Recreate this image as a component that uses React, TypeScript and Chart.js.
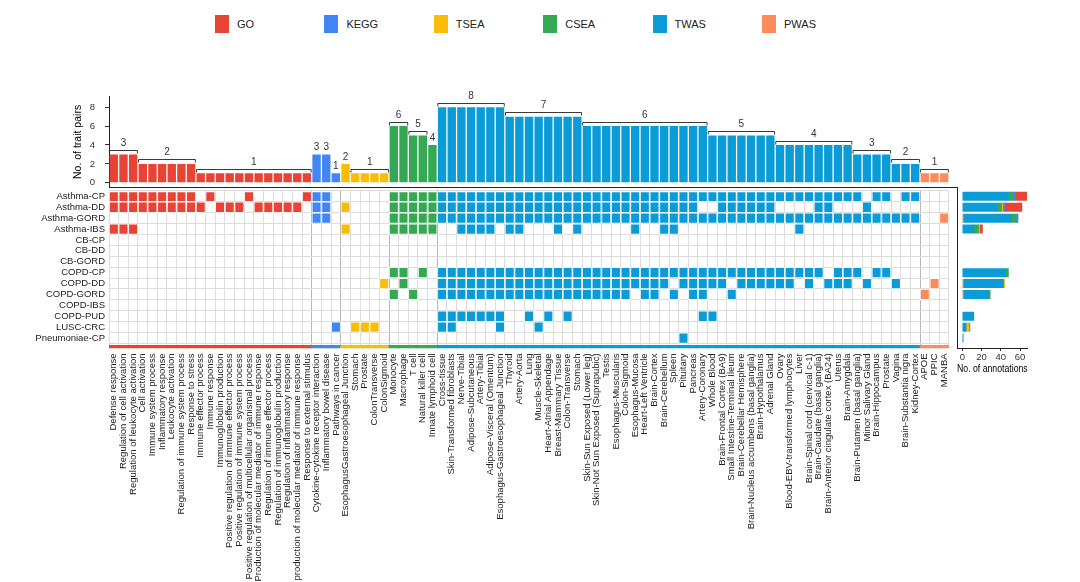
import React, { useEffect, useRef } from "react";
import { Chart, registerables } from "chart.js";

Chart.register(...registerables);

const FONT = '"Liberation Sans", Arial, Helvetica, sans-serif';
Chart.defaults.font.family = FONT;
Chart.defaults.color = "#333";

// ---------- categories ----------
const categories = ["GO", "KEGG", "TSEA", "CSEA", "TWAS", "PWAS"];
const categoryColors = ["#E84335", "#4285F4", "#FBBC05", "#34A853", "#0B9BD7", "#FF8B5C"];

// ---------- annotations (columns) and number of trait pairs ----------
const goTerms = [
  "Defense response",
  "Regulation of cell activation",
  "Regulation of leukocyte activation",
  "Cell activation",
  "Immune system process",
  "Inflammatory response",
  "Leukocyte activation",
  "Regulation of immune system process",
  "Response to stress",
  "Immune effector process",
  "Immune response",
  "Immunoglobulin production",
  "Positive regulation of immune effector process",
  "Positive regulation of immune system process",
  "Positive regulation of multicellular organismal process",
  "Production of molecular mediator of immune response",
  "Regulation of immune effector process",
  "Regulation of immunoglobulin production",
  "Regulation of inflammatory response",
  "production of molecular mediator of immune response",
  "Response to external stimulus",
];
const goPairs = [3, 3, 3, 2, 2, 2, 2, 2, 2, 1, 1, 1, 1, 1, 1, 1, 1, 1, 1, 1, 1];

const keggTerms = ["Cytokine-cytokine receptor interaction", "Inflammatory bowel disease", "Pathways in cancer"];
const keggPairs = [3, 3, 1];

const tseaTerms = ["EsophagusGastroesophageal Junction", "Stomach", "Prostate", "ColonTransverse", "ColonSigmoid"];
const tseaPairs = [2, 1, 1, 1, 1];

const cseaTerms = ["Monocyte", "Macrophage", "T cell", "Natural killer cell", "Innate lymphoid cell"];
const cseaPairs = [6, 6, 5, 5, 4];

const twasTerms = [
  "Cross-tissue", "Skin-Transformed fibroblasts", "Nerve-Tibial", "Adipose-Subcutaneous", "Artery-Tibial",
  "Adipose-Visceral (Omentum)", "Esophagus-Gastroesophageal Junction",
  "Thyroid", "Artery-Aorta", "Lung", "Muscle-Skeletal", "Heart-Atrial Appendage", "Breast-Mammary Tissue",
  "Colon-Transverse", "Stomach",
  "Skin-Sun Exposed (Lower leg)", "Skin-Not Sun Exposed (Suprapubic)", "Testis", "Esophagus-Muscularis",
  "Colon-Sigmoid", "Esophagus-Mucosa", "Heart-Left Ventricle", "Brain-Cortex", "Brain-Cerebellum", "Spleen",
  "Pituitary", "Pancreas", "Artery-Coronary",
  "Whole Blood", "Brain-Frontal Cortex (BA9)", "Small Intestine-Terminal Ileum", "Brain-Cerebellar Hemisphere",
  "Brain-Nucleus accumbens (basal ganglia)", "Brain-Hypothalamus", "Adrenal Gland",
  "Ovary", "Blood-EBV-transformed lymphocytes", "Liver", "Brain-Spinal cord (cervical c-1)",
  "Brain-Caudate (basal ganglia)", "Brain-Anterior cingulate cortex (BA24)", "Uterus", "Brain-Amygdala",
  "Brain-Putamen (basal ganglia)", "Minor Salivary Gland", "Brain-Hippocampus", "Prostate",
  "Vagina", "Brain-Substantia nigra", "Kidney-Cortex",
];
const twasPairs = [
  8, 8, 8, 8, 8, 8, 8,
  7, 7, 7, 7, 7, 7, 7, 7,
  6, 6, 6, 6, 6, 6, 6, 6, 6, 6, 6, 6, 6,
  5, 5, 5, 5, 5, 5, 5,
  4, 4, 4, 4, 4, 4, 4, 4,
  3, 3, 3, 3,
  2, 2, 2,
];

const pwasTerms = ["APOE", "PPIC", "MANBA"];
const pwasPairs = [1, 1, 1];

// label groups over the top bars: [first column, last column]
const bracketGroups = [
  [0, 2], [3, 8], [9, 20], [21, 21], [22, 22], [23, 23], [24, 24], [25, 28],
  [29, 30], [31, 32], [33, 33], [34, 40], [41, 48], [49, 61], [62, 68], [69, 76],
  [77, 80], [81, 83], [84, 86],
];

const pairTicks = [0, 2, 4, 6, 8];

// ---------- trait pairs (rows) ----------
const traitPairs = [
  "Asthma-CP", "Asthma-DD", "Asthma-GORD", "Asthma-IBS", "CB-CP", "CB-DD", "CB-GORD",
  "COPD-CP", "COPD-DD", "COPD-GORD", "COPD-IBS", "COPD-PUD", "LUSC-CRC", "Pneumoniae-CP",
];

// significant cells: GO(21) KEGG(3) TSEA(5) CSEA(5) TWAS(50, in tens) PWAS(3)
const cellPattern = [
  "111111111010001000001 110 00000 11111 1111111111 1111111111 1111111111 1111111111 1111011011 000",
  "111111111101110111110 110 10000 11111 1111111111 1111111111 1111111001 1111100001 1000100000 000",
  "000000000000000000000 110 00000 11111 1111111111 1111111111 1111111111 1111111111 1111111111 001",
  "111000000000000000000 000 10000 11111 0011110110 0010100000 1001100000 0000000100 0000000000 000",
  "000000000000000000000 000 00000 00000 0000000000 0000000000 0000000000 0000000000 0000000000 000",
  "000000000000000000000 000 00000 00000 0000000000 0000000000 0000000000 0000000000 0000000000 000",
  "000000000000000000000 000 00000 00000 0000000000 0000000000 0000000000 0000000000 0000000000 000",
  "000000000000000000000 000 00000 11010 1111111111 1111111111 1111111111 1111111111 0111011000 000",
  "000000000000000000000 000 00001 01000 1111111111 1111111111 1111011111 0111111010 1110100100 010",
  "000000000000000000000 000 00000 10100 1111111111 1111111111 0110101100 1000000000 0000000000 100",
  "000000000000000000000 000 00000 00000 0000000000 0000000000 0000000000 0000000000 0000000000 000",
  "000000000000000000000 000 00000 00000 1111111001 0101000000 0000000110 0000000000 0000000000 000",
  "000000000000000000000 001 01110 00000 1100001000 1000000000 0000000000 0000000000 0000000000 000",
  "000000000000000000000 000 00000 00000 0000000000 0000000000 0000010000 0000000000 0000000000 000",
];

// number of annotations per trait pair, by category
const annoGO = [12, 18, 0, 3, 0, 0, 0, 0, 0, 0, 0, 0, 0, 0];
const annoKEGG = [2, 2, 2, 0, 0, 0, 0, 0, 0, 0, 0, 0, 1, 0];
const annoTSEA = [0, 1, 0, 1, 0, 0, 0, 0, 1, 0, 0, 0, 3, 0];
const annoCSEA = [5, 5, 5, 5, 0, 0, 0, 3, 1, 2, 0, 0, 0, 0];
const annoTWAS = [48, 36, 50, 12, 0, 0, 0, 45, 41, 26, 0, 12, 4, 1];
const annoPWAS = [0, 0, 1, 0, 0, 0, 0, 0, 1, 1, 0, 0, 0, 0];
const annoTicks = [0, 20, 40, 60];

// ---------- derived tables ----------
const termGroups = [goTerms, keggTerms, tseaTerms, cseaTerms, twasTerms, pwasTerms];
const annotations: string[] = termGroups.flat();
const annotationCategory: number[] = termGroups.flatMap((g, ci) => g.map(() => ci));
const pairCounts: number[] = [goPairs, keggPairs, tseaPairs, cseaPairs, twasPairs, pwasPairs].flat();
const colColors = annotationCategory.map((c) => categoryColors[c]);
const categoryStarts: number[] = [];
annotationCategory.forEach((c, j) => {
  if (j > 0 && annotationCategory[j - 1] !== c) categoryStarts.push(j);
});
const rowCells = cellPattern.map((s) => s.replace(/\s+/g, "").split("").map((ch) => ch === "1"));
const annoByCategory = [annoGO, annoKEGG, annoTSEA, annoCSEA, annoTWAS, annoPWAS];
const stackOrder = [5, 4, 3, 2, 1, 0];

const zeroPad = (s: any) => {
  s.paddingTop = 0;
  s.paddingBottom = 0;
  s.paddingLeft = 0;
  s.paddingRight = 0;
};

const bracketPlugin = {
  id: "pairBrackets",
  afterDatasetsDraw(chart: any) {
    const { ctx } = chart;
    const x = chart.scales.x;
    const y = chart.scales.y;
    ctx.save();
    ctx.strokeStyle = "#222";
    ctx.lineWidth = 0.9;
    ctx.fillStyle = "#333";
    ctx.font = `10px ${FONT}`;
    ctx.textAlign = "center";
    ctx.textBaseline = "middle";
    for (const [from, to] of bracketGroups) {
      const v = pairCounts[from];
      const yTop = y.getPixelForValue(v);
      const xl = x.getPixelForValue(from + 0.06);
      const xr = x.getPixelForValue(to + 0.94);
      if (to > from) {
        const yl = Math.round(yTop - 4.4) + 0.5;
        ctx.beginPath();
        ctx.moveTo(xl, yl + 3);
        ctx.lineTo(xl, yl);
        ctx.lineTo(xr, yl);
        ctx.lineTo(xr, yl + 3);
        ctx.stroke();
        ctx.fillText(String(v), (xl + xr) / 2, yl - 7);
      } else {
        ctx.fillText(String(v), (xl + xr) / 2, yTop - 7);
      }
    }
    ctx.restore();
  },
};

export default function App() {
  const topRef = useRef<HTMLCanvasElement>(null);
  const heatRef = useRef<HTMLCanvasElement>(null);
  const sideRef = useRef<HTMLCanvasElement>(null);

  useEffect(() => {
    const charts: Chart[] = [];

    // ---- top bar chart: number of trait pairs per annotation ----
    charts.push(
      new Chart(topRef.current as HTMLCanvasElement, {
        type: "bar",
        data: {
          datasets: [
            {
              data: pairCounts.map((v, j) => ({ x: j + 0.5, y: v })),
              backgroundColor: colColors,
              borderWidth: 0,
              barPercentage: 0.87,
              categoryPercentage: 1,
            } as any,
          ],
        },
        options: {
          responsive: false,
          animation: false,
          events: [],
          layout: { padding: { top: 11.8, right: 11.3, left: 0, bottom: 0 } },
          plugins: { legend: { display: false }, tooltip: { enabled: false } },
          scales: {
            x: {
              type: "linear",
              offset: false,
              min: 0,
              max: 87.8,
              ticks: { display: false },
              grid: { display: false, offset: false },
              border: { display: true, color: "#222", width: 1 },
              afterFit: (s: any) => {
                s.height = 4.95;
                zeroPad(s);
              },
            },
            y: {
              type: "linear",
              offset: false,
              min: -0.45,
              max: 9.1,
              afterBuildTicks: (s: any) => {
                s.ticks = pairTicks.map((v) => ({ value: v }));
              },
              ticks: { font: { size: 9.5 }, color: "#333", padding: 10 },
              grid: { drawOnChartArea: false, drawTicks: true, tickLength: 4, color: "#333" },
              border: { display: true, color: "#222", width: 1 },
              title: {
                display: true,
                text: "No. of trait pairs",
                font: { size: 10.5 },
                color: "#000",
                padding: { top: 4, bottom: 0 },
              },
              afterFit: (s: any) => {
                s.width = 41;
                zeroPad(s);
              },
            },
          },
        } as any,
        plugins: [bracketPlugin],
      })
    );

    // ---- heatmap ----
    const heatDatasets: any[] = rowCells.map((cells, r) => ({
      data: cells.map((f) => (f ? [r, r + 1] : null)),
      backgroundColor: colColors,
      borderColor: "#ffffff",
      borderWidth: 0.8,
      borderSkipped: false,
      inflateAmount: 0,
      barPercentage: 1,
      categoryPercentage: 1,
      grouped: false,
    }));
    heatDatasets.push({
      data: annotations.map(() => [14.17, 14.43]),
      backgroundColor: colColors,
      borderWidth: 0,
      inflateAmount: 0.4,
      barPercentage: 1,
      categoryPercentage: 1,
      grouped: false,
    });

    charts.push(
      new Chart(heatRef.current as HTMLCanvasElement, {
        type: "bar",
        data: { labels: annotations, datasets: heatDatasets },
        options: {
          responsive: false,
          animation: false,
          events: [],
          layout: { padding: { top: 10.9, right: 11, left: 0, bottom: 0 } },
          plugins: { legend: { display: false }, tooltip: { enabled: false } },
          scales: {
            x: {
              type: "category",
              grid: {
                offset: true,
                drawTicks: false,
                color: (ctx: any) => (categoryStarts.includes(ctx.index) ? "#b8b8b8" : "#dcdcdc"),
                lineWidth: 1,
              },
              border: { display: false },
              ticks: {
                autoSkip: false,
                maxRotation: 90,
                minRotation: 90,
                font: { size: 9.5 },
                color: "#222",
                padding: 5,
              },
              afterFit: (s: any) => {
                s.height = 233.6;
                zeroPad(s);
              },
            },
            y: {
              type: "linear",
              offset: false,
              reverse: true,
              min: 0,
              max: 14.45,
              afterBuildTicks: (s: any) => {
                const t: any[] = [];
                for (let k = 0; k <= traitPairs.length * 2; k++) t.push({ value: k / 2 });
                s.ticks = t;
              },
              ticks: {
                autoSkip: false,
                font: { size: 9.5 },
                color: "#222",
                padding: 4,
                callback: (v: any) => (Number.isInteger(v) ? "" : traitPairs[Math.floor(v)]),
              },
              grid: {
                drawTicks: false,
                color: (ctx: any) =>
                  ctx.tick && Number.isInteger(ctx.tick.value) ? "#dcdcdc" : "rgba(0,0,0,0)",
              },
              border: { display: false },
              afterFit: (s: any) => {
                s.width = 109;
                zeroPad(s);
              },
            },
          },
        } as any,
      })
    );

    // ---- right stacked bars: number of annotations per trait pair ----
    const cum = traitPairs.map(() => 0);
    const sideDatasets: any[] = stackOrder.map((ci) => {
      const data: any[] = [];
      traitPairs.forEach((_, r) => {
        const v = annoByCategory[ci][r];
        if (v > 0) {
          data.push({ y: r + 0.5, x: [cum[r], cum[r] + v] });
          cum[r] += v;
        }
      });
      return {
        label: categories[ci],
        data,
        backgroundColor: categoryColors[ci],
        borderWidth: 0,
        barThickness: 8.4,
        grouped: false,
        inflateAmount: 0.3,
      };
    });

    charts.push(
      new Chart(sideRef.current as HTMLCanvasElement, {
        type: "bar",
        data: { datasets: sideDatasets },
        options: {
          indexAxis: "y",
          responsive: false,
          animation: false,
          events: [],
          layout: { padding: { top: 7, right: 52.3, left: 27, bottom: 0 } },
          plugins: { legend: { display: false }, tooltip: { enabled: false } },
          scales: {
            x: {
              type: "linear",
              offset: false,
              min: -5.5,
              max: 68,
              afterBuildTicks: (s: any) => {
                s.ticks = annoTicks.map((v) => ({ value: v }));
              },
              ticks: { font: { size: 9.5 }, color: "#333", padding: 1 },
              grid: { drawOnChartArea: false, drawTicks: true, tickLength: 3, color: "#333" },
              border: { display: true, color: "#222", width: 1 },
              title: {
                display: true,
                text: "No. of annotations",
                font: { size: 10.5 },
                color: "#000",
                padding: { top: 1, bottom: 5 },
              },
              afterFit: (s: any) => {
                s.height = 32;
                zeroPad(s);
              },
            },
            y: {
              type: "linear",
              offset: false,
              reverse: true,
              min: -0.36,
              max: 14.41,
              ticks: { display: false },
              grid: { display: false, drawTicks: false, offset: false },
              border: { display: true, color: "#222", width: 1 },
              afterFit: (s: any) => {
                s.width = 0;
                zeroPad(s);
              },
            },
          },
        } as any,
      })
    );

    return () => charts.forEach((c) => c.destroy());
  }, []);

  return (
    <div
      style={{
        position: "absolute",
        left: 0,
        top: 0,
        width: 1080,
        height: 582,
        overflow: "hidden",
        background: "#fff",
        fontFamily: FONT,
      }}
    >
      {categories.map((c, i) => (
        <div
          key={c}
          style={{ position: "absolute", left: 215 + i * 109.4, top: 15, height: 18, display: "flex", alignItems: "center" }}
        >
          <div style={{ width: 14, height: 18, background: categoryColors[i] }} />
          <span style={{ marginLeft: 8, fontSize: 11, color: "#222", lineHeight: "18px" }}>{c}</span>
        </div>
      ))}
      <canvas ref={topRef} width={900} height={107} style={{ position: "absolute", left: 68, top: 85, width: 900, height: 107 }} />
      <canvas ref={heatRef} width={960} height={402} style={{ position: "absolute", left: 0, top: 180, width: 960, height: 402 }} />
      <canvas ref={sideRef} width={150} height={200} style={{ position: "absolute", left: 930, top: 180, width: 150, height: 200 }} />
    </div>
  );
}
